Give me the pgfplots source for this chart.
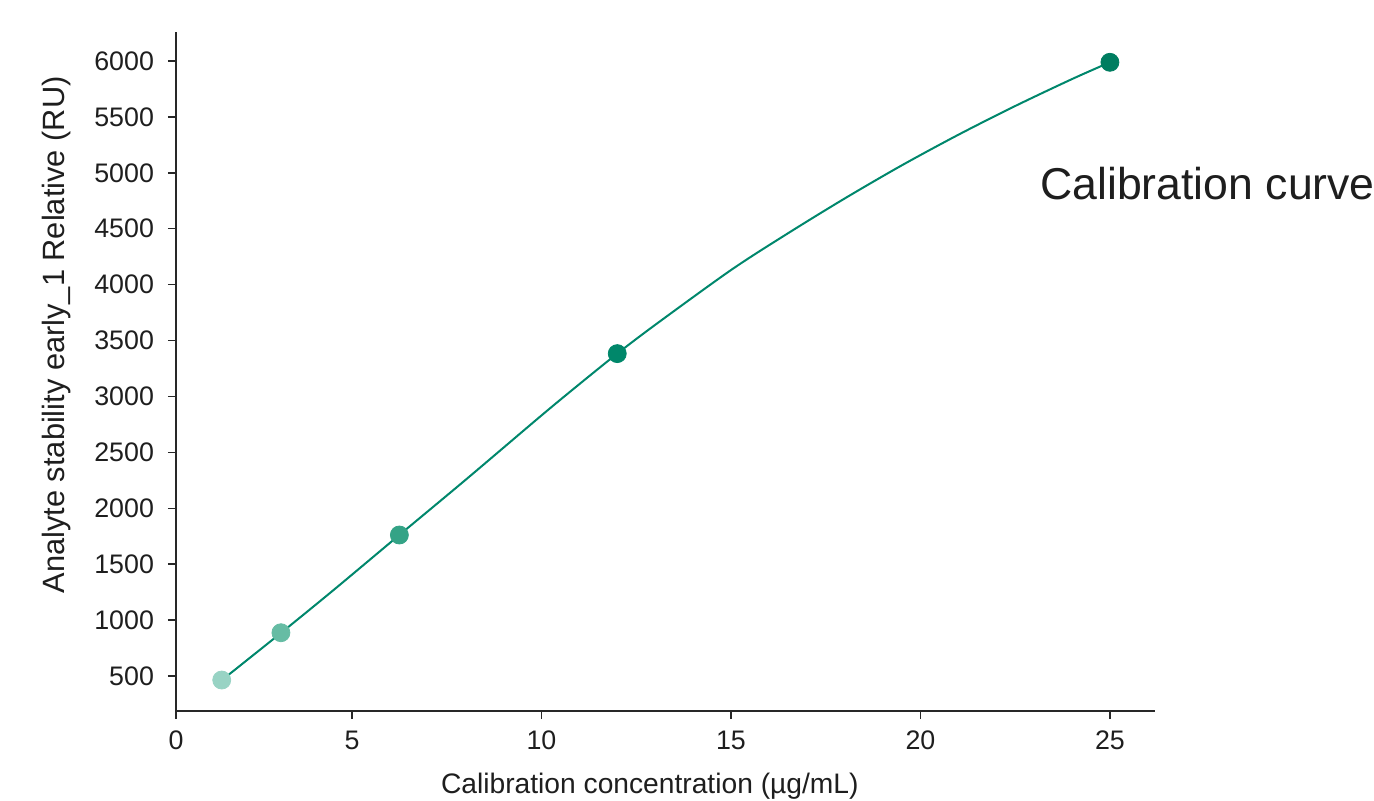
\documentclass[border=0pt]{standalone}
\usepackage{fontspec}
\setmainfont{Liberation Sans}
\usepackage{pgfplots}
\pgfplotsset{compat=1.18}
\definecolor{linecol}{RGB}{0,135,108}
\definecolor{p1}{RGB}{152,211,196}
\definecolor{p2}{RGB}{102,188,164}
\definecolor{p3}{RGB}{52,163,134}
\definecolor{p4}{RGB}{0,135,106}
\definecolor{p5}{RGB}{0,125,96}
\definecolor{axisgray}{RGB}{40,40,40}
\definecolor{textgray}{RGB}{30,30,30}
\begin{document}
\begin{tikzpicture}
\begin{axis}[
  at={(0,0)}, anchor=south west,
  scale only axis, width=489.5pt, height=339.5pt,
  xmin=0.356, xmax=26.19, ymin=187, ymax=6259,
  axis x line*=bottom, axis y line*=left,
  axis line style={-, draw=axisgray, line width=0.75pt},
  tick align=outside, major tick length=4pt,
  tick style={axisgray, line width=0.75pt},
  xtick={0.356,5,10,15,20,25}, xticklabels={0,5,10,15,20,25},
  ytick={500,1000,...,6000},
  /pgf/number format/1000 sep={},
  /pgf/number format/assume math mode=true,
  ticklabel style={font=\fontsize{13.4}{16}\selectfont, text=textgray},
  yticklabel style={xshift=-3.5pt},
  xticklabel style={yshift=-2.5pt},
  clip=false,
  xlabel={Calibration concentration (µg/mL)},
  ylabel={Analyte stability early\_1 Relative (RU)},
  xlabel style={font=\fontsize{14.1}{16}\selectfont, text=textgray, at={(axis description cs:0.484,0)}, anchor=base, yshift=-41pt},
  ylabel style={font=\fontsize{15.4}{18}\selectfont, text=textgray, at={(axis description cs:-0.1134,0.554)}, anchor=base},
]
\addplot[smooth, tension=0.5, line width=1pt, draw=linecol, no marks] table {
x y
1.5625 462
3.125 885
4.5 1265
6.25 1761
8 2255
10 2830
11 3110
12 3383
13 3640
15 4130
16.5 4458
18 4770
19.5 5065
21 5340
22.5 5597
24 5838
25 5988
};
\addplot[only marks, mark=*, mark size=4.5pt, color=p1] coordinates {(1.5625,464)};
\addplot[only marks, mark=*, mark size=4.5pt, color=p2] coordinates {(3.125,887)};
\addplot[only marks, mark=*, mark size=4.5pt, color=p3] coordinates {(6.25,1761)};
\addplot[only marks, mark=*, mark size=4.5pt, color=p4] coordinates {(12,3383)};
\addplot[only marks, mark=*, mark size=4.5pt, color=p5] coordinates {(25,5988)};
\node[anchor=base west, inner sep=0pt, font=\fontsize{22.3}{26}\selectfont, text=textgray] at (axis cs:23.15,4758) {Calibration curve};
\end{axis}
\pgfresetboundingbox
\path[use as bounding box] (-88pt,-44.5pt) rectangle (599pt,355.5pt);
\end{tikzpicture}
\end{document}
